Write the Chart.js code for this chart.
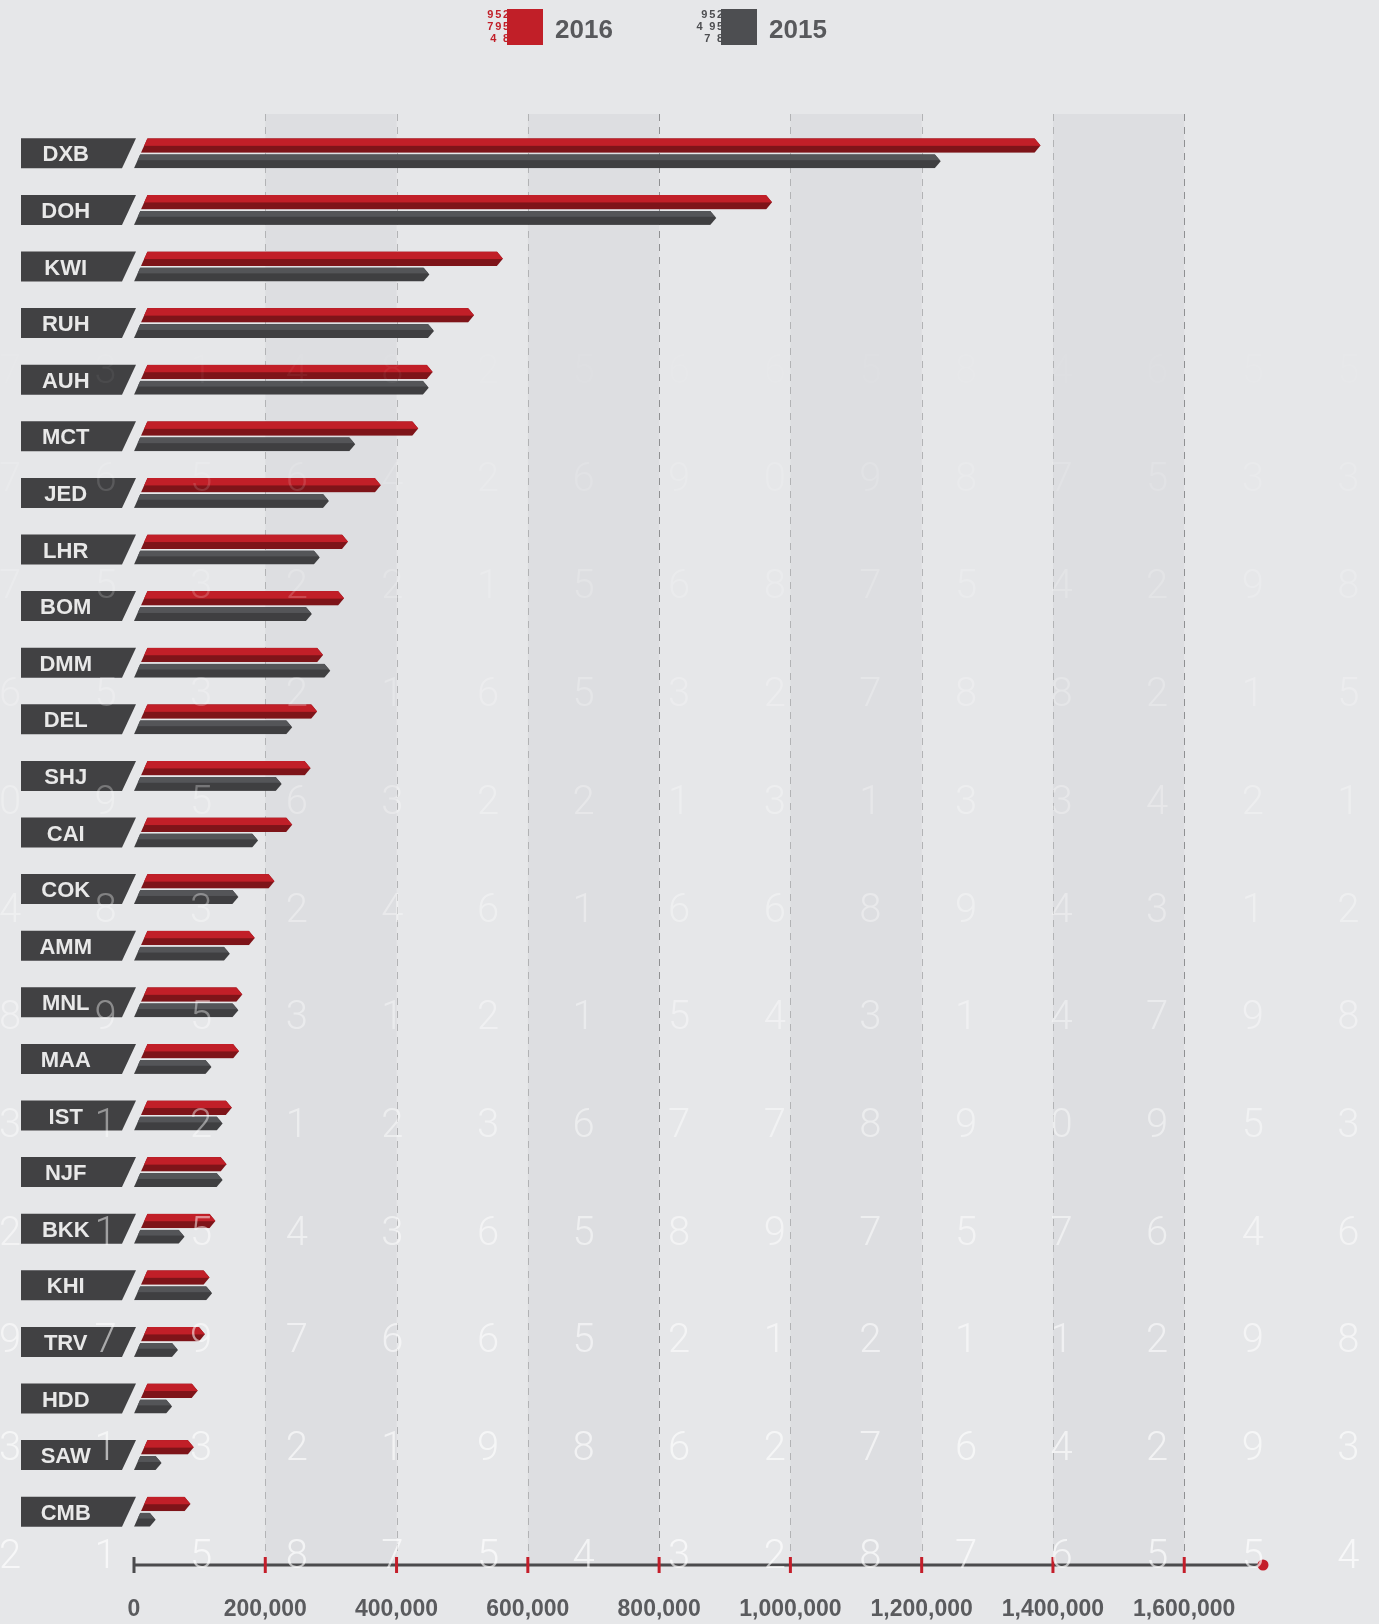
<!DOCTYPE html>
<html>
<head>
<meta charset="utf-8">
<script src="https://cdn.jsdelivr.net/npm/chart.js@4.4.1/dist/chart.umd.min.js"></script>
<style>
  body { margin: 0; background: #e6e7e9; }
  #wrap { width: 1379px; height: 1624px; position: relative; }
</style>
</head>
<body>
<div id="wrap"><canvas id="bar_chart"></canvas></div>
<script>
var airports = ["DXB", "DOH", "KWI", "RUH", "AUH", "MCT", "JED", "LHR", "BOM", "DMM", "DEL", "SHJ", "CAI",
    "COK", "AMM", "MNL", "MAA", "IST", "NJF", "BKK", "KHI", "TRV", "HDD", "SAW", "CMB"];
var pax2016 = [1381000, 972000, 562000, 518000, 455000, 433000, 376000, 326000, 320000, 288000, 279000, 269000, 241000,
    214000, 184000, 165000, 160000, 149000, 141000, 124000, 115000, 108000, 97000, 91000, 86000];
var pax2015 = [1229000, 887000, 450000, 457000, 449000, 337000, 297000, 283000, 271000, 299000, 241000, 225000, 189000,
    159000, 146000, 159000, 118000, 135000, 135000, 77000, 119000, 67000, 58000, 42000, 33000];
var xTickValues = [0, 200000, 400000, 600000, 800000, 1000000, 1200000, 1400000, 1600000];
var xMax = 1720000;

// decorative digits in the background
var bgDigits = ["731482566584655", "765642690987533", "753221568754298", "653216532788215",
    "095632213133421", "483246166894312", "895312154314798", "312123677890953",
    "215436589757646", "979766521211298", "313219862764293", "215875432876554"];
var legendDigits = [["952", "795", "4 8"], ["952", "4 95", "7 8"]];

var FONT = "'Liberation Sans', Arial, sans-serif";

var deco = {
    id: 'deco',
    beforeDraw: function(chart) {
        var ctx = chart.ctx, x = chart.scales.x, y = chart.scales.y;
        var top = 114, bottom = 1565;
        ctx.save();
        ctx.fillStyle = '#e6e7e9';
        ctx.fillRect(0, 0, chart.width, chart.height);

        // alternating bands
        ctx.fillStyle = '#dddee1';
        for (var i = 1; i < xTickValues.length - 1; i += 2) {
            var a = x.getPixelForValue(xTickValues[i]), b = x.getPixelForValue(xTickValues[i + 1]);
            ctx.fillRect(a, top, b - a, bottom - top);
        }
        // dashed grid
        ctx.setLineDash([7, 6]);
        ctx.lineWidth = 1;
        xTickValues.slice(1).forEach(function(v) {
            ctx.strokeStyle = (v === 800000 || v === 1600000) ? '#8f9092' : '#b2b3b5';
            var px = Math.round(x.getPixelForValue(v)) + 0.5;
            ctx.beginPath();
            ctx.moveTo(px, top);
            ctx.lineTo(px, bottom);
            ctx.stroke();
        });
        ctx.setLineDash([]);

        // label boxes
        ctx.fillStyle = '#414143';
        airports.forEach(function(a, i) {
            var yc = y.getPixelForValue(i);
            var t = yc - 15, b = yc + 15;
            ctx.beginPath();
            ctx.moveTo(21, t);
            ctx.lineTo(136, t);
            ctx.lineTo(122, b);
            ctx.lineTo(21, b);
            ctx.closePath();
            ctx.fill();
        });

        // legend
        var boxX = [507, 721];
        chart.data.datasets.forEach(function(ds, i) {
            ctx.font = 'bold 11px ' + FONT;
            ctx.letterSpacing = '1.8px';
            ctx.fillStyle = ds.legendColor;
            ctx.textAlign = 'right';
            ctx.textBaseline = 'middle';
            legendDigits[i].forEach(function(s, j) {
                ctx.fillText(s, boxX[i] + 4, 15 + j * 12);
            });
            ctx.letterSpacing = '0px';
            ctx.fillRect(boxX[i], 9, 36, 36);
            ctx.font = 'bold 26px ' + FONT;
            ctx.fillStyle = '#58595c';
            ctx.textAlign = 'left';
            ctx.textBaseline = 'alphabetic';
            ctx.fillText(ds.label, boxX[i] + 48, 38);
        });
        ctx.restore();
    },
    beforeDatasetsDraw: function(chart) {
        var ctx = chart.ctx, x = chart.scales.x, y = chart.scales.y;
        var axisY = 1565, x0 = x.getPixelForValue(0), xEnd = x.getPixelForValue(xMax);
        ctx.save();
        // axis line
        ctx.strokeStyle = '#4b4b4d';
        ctx.lineWidth = 3;
        ctx.beginPath();
        ctx.moveTo(x0, axisY);
        ctx.lineTo(xEnd, axisY);
        ctx.stroke();
        ctx.beginPath();
        ctx.moveTo(x0, axisY - 8);
        ctx.lineTo(x0, axisY + 8);
        ctx.stroke();
        ctx.strokeStyle = '#c41e2a';
        xTickValues.slice(1).forEach(function(v) {
            var px = x.getPixelForValue(v);
            ctx.beginPath();
            ctx.moveTo(px, axisY - 8);
            ctx.lineTo(px, axisY + 8);
            ctx.stroke();
        });
        ctx.fillStyle = '#c41e2a';
        ctx.beginPath();
        ctx.arc(xEnd, axisY, 5.5, 0, Math.PI * 2);
        ctx.fill();

        // bars: slanted start, pointed end, two tone
        var k = 0.45;
        chart.data.datasets.forEach(function(ds, di) {
            var meta = chart.getDatasetMeta(di);
            meta.data.forEach(function(el, i) {
                var p = el.getProps(['x', 'y', 'base', 'height'], true);
                var h = p.height;
                var gb = y.getPixelForValue(i) + h;
                var t = p.y - h / 2 + (di === 1 ? 1 : 0);
                var b = p.y + h / 2 - (di === 0 ? 0.5 : 0);
                var tip = p.x, m = (t + b) / 2;
                ctx.save();
                ctx.beginPath();
                ctx.moveTo(p.base + (gb - t) * k, t);
                ctx.lineTo(tip - 6, t);
                ctx.lineTo(tip, m);
                ctx.lineTo(tip - 6, b);
                ctx.lineTo(p.base + (gb - b) * k, b);
                ctx.closePath();
                ctx.clip();
                ctx.fillStyle = ds.darkColor;
                ctx.fillRect(0, t, tip + 2, b - t);
                ctx.fillStyle = ds.backgroundColor;
                ctx.fillRect(0, t, tip + 2, (b - t) * (di === 0 ? 0.52 : 0.42));
                ctx.restore();
            });
        });
        ctx.restore();
        return false;
    },
    afterDraw: function(chart) {
        var ctx = chart.ctx;
        ctx.save();
        ctx.font = '300 40px Roboto, ' + FONT;
        ctx.textAlign = 'center';
        ctx.textBaseline = 'middle';
        bgDigits.forEach(function(row, r) {
            var alpha = r === 0 ? 0.05 : 0.08 + 0.58 * r / (bgDigits.length - 1);
            ctx.fillStyle = 'rgba(255,255,255,' + alpha.toFixed(3) + ')';
            for (var c = 0; c < row.length; c++) {
                ctx.fillText(row[c], 10 + c * 95.6, 373 + r * 107.7);
            }
        });
        ctx.restore();
    }
};

var config = {
    type: 'bar',
    data: {
        labels: airports,
        datasets: [{
            label: "2016",
            data: pax2016,
            backgroundColor: '#c11f28',
            darkColor: '#7e1419',
            legendColor: '#c11f28'
        }, {
            label: "2015",
            data: pax2015,
            backgroundColor: '#545558',
            darkColor: '#3f3f41',
            legendColor: '#4d4e51'
        }]
    },
    options: {
        indexAxis: 'y',
        responsive: true,
        maintainAspectRatio: false,
        animation: false,
        categoryPercentage: 0.53,
        barPercentage: 1,
        layout: { padding: { top: 125, right: 116, bottom: 0, left: 0 } },
        plugins: { legend: { display: false }, tooltip: { enabled: false } },
        scales: {
            x: {
                min: 0,
                max: xMax,
                grid: { display: false, drawTicks: false },
                border: { display: false },
                afterBuildTicks: function(scale) {
                    scale.ticks = xTickValues.map(function(v) { return { value: v }; });
                },
                afterFit: function(scale) { scale.height = 84; },
                ticks: {
                    padding: 56,
                    autoSkip: false,
                    maxRotation: 0,
                    minRotation: 0,
                    color: '#5a5b5e',
                    font: { family: FONT, size: 23, weight: 'bold' },
                    callback: function(v) { return Number(v).toLocaleString('en-US'); }
                }
            },
            y: {
                grid: { display: false, drawTicks: false },
                border: { display: false },
                afterFit: function(scale) { scale.width = 134; },
                ticks: {
                    crossAlign: 'center',
                    padding: 42,
                    labelOffset: 2,
                    color: '#e8e8e8',
                    font: { family: FONT, size: 22, weight: 'bold' }
                }
            }
        }
    },
    plugins: [deco]
};

new Chart(document.getElementById("bar_chart").getContext("2d"), config);
</script>
</body>
</html>
